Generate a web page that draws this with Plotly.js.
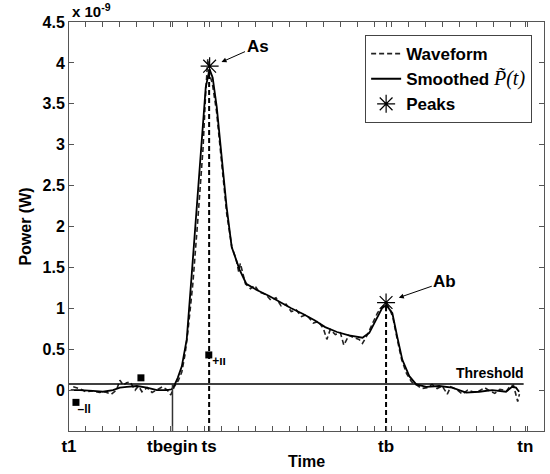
<!DOCTYPE html>
<html>
<head>
<meta charset="utf-8">
<script src="https://cdn.plot.ly/plotly-3.0.1.min.js"></script>
<style>
  html, body { margin: 0; padding: 0; background: #fff; }
  #chart { width: 550px; height: 474px; }
</style>
</head>
<body>
<div id="chart"></div>
<script>
// ---- Data (power in units of 1e-9 W, time in arbitrary sample units) ----
const waveformT = [0.25,0.6,1.0,1.4,1.8,2.1,2.5,2.8,3.0,3.2,3.4,3.6,3.9,4.1,4.3,4.6,4.9,5.2,5.5,5.8,6.0,6.2,6.45,6.65,6.85,7.0,7.3,7.6,7.9,8.05,8.18,8.3,8.45,8.7,9.0,9.3,9.6,9.85,10.0,10.1,10.4,10.7,10.95,11.2,11.6,11.9,12.2,12.5,12.8,13.1,13.4,13.7,14.0,14.4,14.7,15.0,15.2,15.4,15.7,16.0,16.2,16.5,16.8,17.1,17.3,17.6,17.9,18.2,18.5,18.7,18.9,19.1,19.35,19.6,19.9,20.2,20.5,20.8,21.1,21.4,21.7,22.0,22.3,22.5,22.9,23.2,23.5,23.8,24.1,24.5,24.8,25.1,25.4,25.8,26.0,26.2,26.35,26.45,26.55];
const waveformP = [0.04,0.02,-0.02,-0.01,-0.03,-0.02,-0.05,0.0,0.12,0.06,0.09,0.10,0.0,0.05,-0.02,0.03,-0.03,0.0,0.04,0.0,-0.06,0.04,0.12,0.22,0.45,0.7,1.3,2.1,2.95,3.6,4.05,3.85,3.75,3.4,2.8,2.15,1.75,1.6,1.45,1.55,1.30,1.24,1.28,1.20,1.17,1.10,1.13,1.03,1.05,0.96,0.98,0.90,0.92,0.82,0.84,0.75,0.62,0.74,0.68,0.70,0.55,0.67,0.64,0.62,0.57,0.68,0.82,0.95,1.02,1.06,1.0,0.88,0.62,0.38,0.2,0.1,0.06,0.02,0.03,0.07,0.02,0.05,-0.05,0.04,0.0,-0.05,0.0,-0.02,-0.02,0.03,-0.01,-0.04,0.01,-0.01,0.05,0.06,-0.06,-0.14,-0.05];

const smoothT = [0.1,0.65,1.41,2.0,2.59,3.0,3.41,4.0,4.59,5.18,5.76,6.06,6.24,6.41,6.65,6.94,7.24,7.53,7.82,8.06,8.24,8.29,8.47,8.71,9.0,9.29,9.59,10.06,10.45,11.1,11.8,12.4,13.1,13.8,14.5,15.1,15.8,16.5,17.3,17.7,18.1,18.45,18.7,19.06,19.35,19.65,20.06,20.47,21.06,21.82,22.59,23.41,24.18,24.94,25.76,26.12,26.35,26.53];
const smoothP = [0.0,0.0,-0.01,-0.02,0.0,0.03,0.04,0.05,0.03,0.0,0.0,0.01,0.07,0.15,0.29,0.62,1.43,2.24,3.05,3.70,3.88,3.92,3.82,3.46,2.85,2.24,1.75,1.47,1.30,1.22,1.15,1.08,1.00,0.93,0.85,0.77,0.71,0.67,0.64,0.70,0.86,1.0,1.04,0.94,0.65,0.37,0.17,0.07,0.04,0.05,0.03,-0.03,-0.02,0.0,-0.02,0.04,0.03,-0.02];

const peakNames = ['As', 'Ab'];
const peakT = [8.29, 18.69];
const peakP = [3.96, 1.07];

const thresholdP = 0.075;
const thresholdSpan = [0, 26.8];

const tickNames = ['t1', 'tbegin', 'ts', 'tb', 'tn'];
const tickT = [0, 6.1, 8.26, 18.69, 26.9];

const yTickVals = [0, 0.5, 1, 1.5, 2, 2.5, 3, 3.5, 4, 4.5];
const yTickText = ['0', '0.5', '1', '1.5', '2', '2.5', '3', '3.5', '4', '4.5'];

const squareT = [0.41, 4.24, 8.24];
const squareP = [-0.15, 0.15, 0.43];
const squareNoteT = [0.9, 8.85];
const squareNoteP = [-0.24, 0.34];
const squareNotes = ['–ll', '+ıı'];

// ---- Traces ----
const FONT = '"Liberation Sans", Arial, sans-serif';
const yBottom = -0.5;

const traces = [
  {
    x: waveformT, y: waveformP, mode: 'lines', name: 'Waveform',
    line: { color: '#222', width: 1.6, dash: '5px,3px' }
  },
  {
    x: smoothT, y: smoothP, mode: 'lines',
    name: 'Smoothed <span style="font-family:\'Liberation Serif\';font-weight:normal;font-style:italic;font-size:20px">P̃(t)</span>',
    line: { color: '#000', width: 1.8 }
  },
  {
    x: peakT, y: peakP, mode: 'markers', name: 'Peaks',
    marker: { symbol: 'asterisk-open', size: 15, color: '#000', line: { color: '#000', width: 1.2 } }
  },
  // threshold line
  {
    x: thresholdSpan, y: [thresholdP, thresholdP], mode: 'lines', showlegend: false, hoverinfo: 'skip',
    line: { color: '#000', width: 1.5 }
  },
  // tbegin vertical
  {
    x: [tickT[1], tickT[1]], y: [yBottom, thresholdP], mode: 'lines', showlegend: false, hoverinfo: 'skip',
    line: { color: '#333', width: 1.5 }
  },
  // ts vertical dashed
  {
    x: [tickT[2], tickT[2]], y: [yBottom, smoothP[21]], mode: 'lines', showlegend: false, hoverinfo: 'skip',
    line: { color: '#000', width: 2, dash: '5px,3px' }
  },
  // tb vertical dashed
  {
    x: [tickT[3], tickT[3]], y: [yBottom, smoothP[42]], mode: 'lines', showlegend: false, hoverinfo: 'skip',
    line: { color: '#000', width: 2, dash: '5px,3px' }
  },
  // small squares
  {
    x: squareT, y: squareP, mode: 'markers', showlegend: false, hoverinfo: 'skip',
    marker: { symbol: 'square', size: 7, color: '#000' }
  },
  {
    x: squareNoteT, y: squareNoteP, mode: 'text', showlegend: false, hoverinfo: 'skip',
    text: squareNotes, textposition: 'middle center',
    textfont: { family: FONT, size: 12, color: '#000' }
  }
];

const annotations = [
  {
    x: peakT[0] + 0.7, y: peakP[0] + 0.05, text: peakNames[0], showarrow: true,
    ax: 36, ay: -16, arrowhead: 2, arrowsize: 1, arrowwidth: 1, arrowcolor: '#000',
    font: { family: FONT, size: 17, color: '#000', weight: 'bold' }
  },
  {
    x: tickT[3] + 0.75, y: peakP[1] + 0.06, text: peakNames[1], showarrow: true,
    ax: 46, ay: -16, arrowhead: 2, arrowsize: 1, arrowwidth: 1, arrowcolor: '#000',
    font: { family: FONT, size: 17, color: '#000', weight: 'bold' }
  },
  {
    x: 24.8, y: thresholdP + 0.14, text: 'Threshold', showarrow: false,
    font: { family: FONT, size: 14, color: '#000', weight: 'bold' }
  },
  {
    xref: 'paper', yref: 'paper', x: 0.002, y: 1.0, xanchor: 'left', yanchor: 'bottom',
    text: 'x 10<sup>-9</sup>', showarrow: false,
    font: { family: FONT, size: 15, color: '#000', weight: 'bold' }
  }
];

const layout = {
  width: 550, height: 474,
  margin: { l: 69, r: 6, t: 22, b: 43 },
  paper_bgcolor: '#fff', plot_bgcolor: '#fff',
  font: { family: FONT, size: 16, color: '#000', weight: 'bold' },
  showlegend: true,
  legend: {
    x: 0.975, y: 0.968, xanchor: 'right', yanchor: 'top',
    bgcolor: '#fff', bordercolor: '#444', borderwidth: 1,
    font: { family: FONT, size: 17, color: '#000', weight: 'bold' },
    itemwidth: 30, tracegroupgap: 0
  },
  xaxis: {
    range: [0, 28], showgrid: false, zeroline: false,
    showline: true, linecolor: '#555', linewidth: 1, mirror: 'ticks',
    ticks: 'inside', ticklen: 5, tickcolor: '#555',
    tickmode: 'array', tickvals: tickT, ticktext: tickNames,
    tickfont: { family: FONT, size: 17, color: '#000', weight: 'bold' },
    minor: { tickmode: 'linear', tick0: 0, dtick: 1, ticks: 'inside', ticklen: 5, tickcolor: '#555', showgrid: false },
    title: { text: 'Time', font: { family: FONT, size: 16, color: '#000', weight: 'bold' }, standoff: 0 },
    automargin: false
  },
  yaxis: {
    range: [-0.5, 4.5], showgrid: false, zeroline: false,
    showline: true, linecolor: '#555', linewidth: 1, mirror: 'ticks',
    ticks: 'inside', ticklen: 5, tickcolor: '#555',
    tickmode: 'array', tickvals: yTickVals, ticktext: yTickText,
    tickfont: { family: FONT, size: 16, color: '#000', weight: 'bold' },
    title: { text: 'Power (W)', font: { family: FONT, size: 16, color: '#000', weight: 'bold' }, standoff: 6 },
    automargin: false
  },
  annotations: annotations
};

Plotly.newPlot('chart', traces, layout, { displayModeBar: false, staticPlot: true });
</script>
</body>
</html>
